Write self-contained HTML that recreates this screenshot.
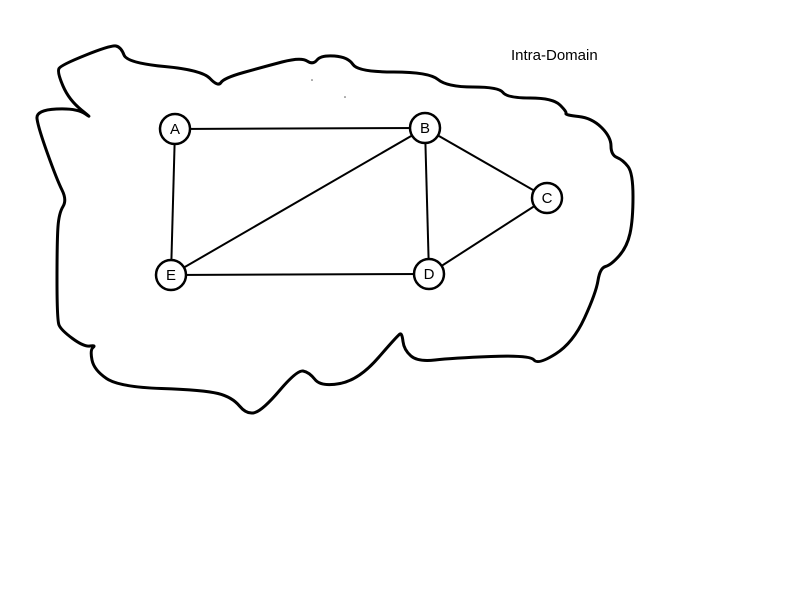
<!DOCTYPE html>
<html><head><meta charset="utf-8"><style>
html,body{margin:0;padding:0;background:#fff;}
svg{display:block;}
</style></head><body>
<svg width="800" height="600" viewBox="0 0 800 600">
<rect x="0" y="0" width="800" height="600" fill="#fff"/>
<path id="cloud" fill="none" stroke="#000" stroke-width="3" stroke-linejoin="round" stroke-linecap="round" d=""/>
<circle cx="312" cy="80" r="0.8" fill="#555"/>
<circle cx="345" cy="97" r="0.8" fill="#555"/>
<text x="511" y="60" font-family="Liberation Sans, sans-serif" font-size="15" fill="#000">Intra-Domain</text>
<g stroke="#000" stroke-width="2">
<line x1="175" y1="129" x2="425" y2="128"/>
<line x1="175" y1="129" x2="171" y2="275"/>
<line x1="425" y1="128" x2="171" y2="275"/>
<line x1="425" y1="128" x2="429" y2="274"/>
<line x1="425" y1="128" x2="547" y2="198"/>
<line x1="547" y1="198" x2="429" y2="274"/>
<line x1="171" y1="275" x2="429" y2="274"/>
</g>
<g font-family="Liberation Sans, sans-serif" font-size="15" text-anchor="middle">
<g><circle cx="175" cy="129" r="15" fill="#fff" stroke="#000" stroke-width="2.5"/><text x="175" y="134">A</text></g>
<g><circle cx="425" cy="128" r="15" fill="#fff" stroke="#000" stroke-width="2.5"/><text x="425" y="133">B</text></g>
<g><circle cx="547" cy="198" r="15" fill="#fff" stroke="#000" stroke-width="2.5"/><text x="547" y="203">C</text></g>
<g><circle cx="429" cy="274" r="15" fill="#fff" stroke="#000" stroke-width="2.5"/><text x="429" y="279">D</text></g>
<g><circle cx="171" cy="275" r="15" fill="#fff" stroke="#000" stroke-width="2.5"/><text x="171" y="280">E</text></g>
</g>
</svg>
<script>
var cloudPts = [[94,120],[77,108],[36,110],[38,127],[57,180],[67,200],[59,213],[57,240],[57,320],[61,330],[84,347],[96,345],[90,350],[94,370],[119,387],[204,390],[232,397],[247,415],[263,410],[297,370],[309,372],[321,387],[359,380],[398,335],[402,333],[404,350],[418,362],[452,358],[530,355],[538,365],[573,343],[596,293],[600,268],[611,265],[627,247],[633,220],[633,173],[623,160],[611,155],[611,137],[592,118],[565,115],[567,112],[553,98],[507,98],[499,87],[447,87],[429,72],[358,72],[348,57],[321,55],[313,65],[301,57],[263,67],[224,78],[218,87],[202,70],[127,63],[121,47],[111,45],[61,65],[57,72],[69,100]];
(function(){
  var n = cloudPts.length;
  function mid(a,b){return [(a[0]+b[0])/2,(a[1]+b[1])/2];}
  var m0 = mid(cloudPts[n-1], cloudPts[0]);
  var d = 'M' + m0[0] + ',' + m0[1];
  for (var i = 0; i < n; i++) {
    var p = cloudPts[i], m = mid(p, cloudPts[(i+1)%n]);
    d += ' Q' + p[0] + ',' + p[1] + ' ' + m[0] + ',' + m[1];
  }
  document.getElementById('cloud').setAttribute('d', d + ' Z');
})();
</script>
</body></html>
